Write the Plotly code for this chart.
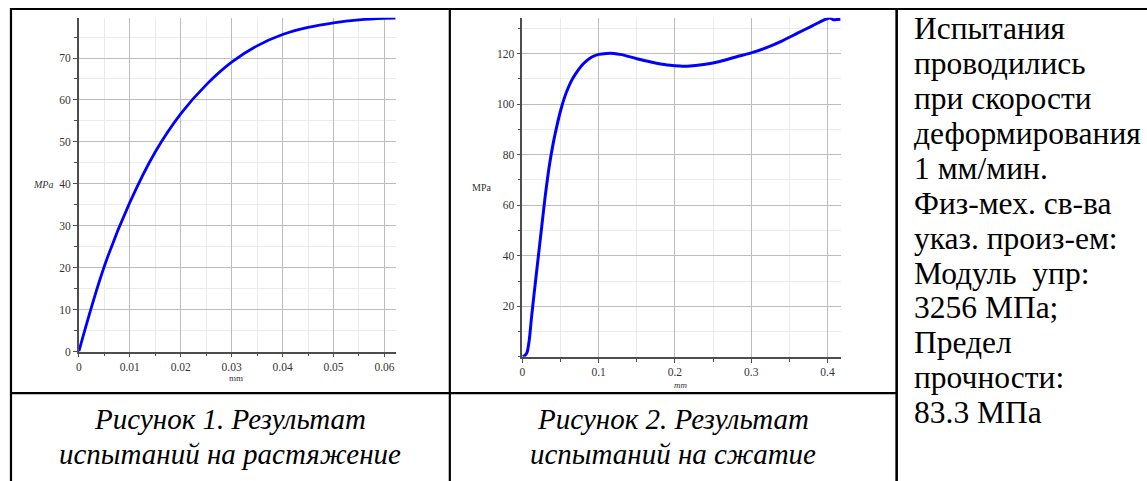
import plotly.graph_objects as go

W, H = 1147, 481

# ---- data: tension test (Figure 1)
tension_mm = [0, 0.005, 0.010, 0.015, 0.020, 0.025, 0.030, 0.035, 0.040,
              0.045, 0.050, 0.055, 0.060, 0.0622]
tension_mpa = [0, 20.3, 35.5, 47.6, 56.7, 63.6, 69.0, 72.9, 75.6,
               77.3, 78.4, 79.1, 79.45, 79.5]

# ---- data: compression test (Figure 2)
compr_mm = [0, 0.003, 0.006, 0.009, 0.012, 0.015, 0.018, 0.021, 0.024, 0.027,
            0.030, 0.033, 0.036, 0.040, 0.045, 0.050, 0.055, 0.060, 0.065, 0.070,
            0.080, 0.090, 0.100, 0.110, 0.120, 0.130, 0.150, 0.170, 0.190, 0.200,
            0.210, 0.220, 0.240, 0.260, 0.280, 0.300, 0.320, 0.340, 0.360, 0.380,
            0.395, 0.403, 0.408, 0.412, 0.417]
compr_mpa = [0, 0.4, 1.6, 6.5, 15.5, 23.8, 31.8, 39.8, 47.8, 55.8,
             63.6, 70.6, 76.8, 83.8, 91.0, 97.3, 102.4, 106.4, 109.6, 112.1,
             116.0, 118.5, 119.7, 120.1, 120.1, 119.6, 118.0, 116.6, 115.5, 115.2,
             115.0, 115.1, 115.8, 117.0, 118.7, 120.3, 122.4, 125.0, 128.0, 131.0,
             133.3, 134.1, 133.4, 133.5, 133.6]

# tick labels
t_xticks = [0, 0.01, 0.02, 0.03, 0.04, 0.05, 0.06]
t_xlabels = ["0", "0.01", "0.02", "0.03", "0.04", "0.05", "0.06"]
t_yticks = [0, 10, 20, 30, 40, 50, 60, 70]
c_xticks = [0, 0.1, 0.2, 0.3, 0.4]
c_xlabels = ["0", "0.1", "0.2", "0.3", "0.4"]
c_yticks = [20, 40, 60, 80, 100, 120]

caption1 = ["Рисунок 1. Результат", "испытаний на растяжение"]
caption2 = ["Рисунок 2. Результат", "испытаний на сжатие"]
side_text = ["Испытания", "проводились", "при скорости", "деформирования",
             "1 мм/мин.", "Физ-мех. св-ва", "указ. произ-ем:", "Модуль  упр:",
             "3256 МПа;", "Предел", "прочности:", "83.3 МПа"]


def px(x):
    return x / W


def py(y):
    return 1 - y / H


SERIF = "Liberation Serif, Times New Roman, serif"
BLUE = "#0000ff"
GRID = "#bdbdbd"
MINOR = "#ebebeb"
AXIS = "#4d4d4d"
TXT = "#333333"

fig = go.Figure()
fig.add_trace(go.Scatter(x=tension_mm, y=tension_mpa, mode="lines",
                         line=dict(color=BLUE, width=2.8, shape="spline", smoothing=1.0),
                         xaxis="x", yaxis="y", showlegend=False, hoverinfo="skip"))
fig.add_trace(go.Scatter(x=compr_mm, y=compr_mpa, mode="lines",
                         line=dict(color=BLUE, width=3, shape="spline", smoothing=0.8),
                         xaxis="x2", yaxis="y2", showlegend=False, hoverinfo="skip"))


def axis_common():
    return dict(showline=True, linecolor=AXIS, linewidth=1.6, mirror=False,
                showgrid=True, gridcolor=GRID, gridwidth=1, zeroline=False,
                ticks="outside", ticklen=4, tickcolor=AXIS, tickwidth=1,
                tickfont=dict(family=SERIF, size=11.5, color=TXT),
                fixedrange=True)


xa1 = axis_common()
xa1.update(domain=[px(76), px(393.7)], range=[0, 0.0622], anchor="y",
           tickvals=t_xticks, ticktext=t_xlabels,
           minor=dict(dtick=0.005, tick0=0, showgrid=True, gridcolor=MINOR,
                      ticks="outside", ticklen=3, tickcolor=AXIS))
ya1 = axis_common()
ya1.update(domain=[py(356), py(18)], range=[0, 79.6], anchor="x",
           tickvals=t_yticks,
           minor=dict(dtick=5, tick0=0, showgrid=True, gridcolor=MINOR,
                      ticks="outside", ticklen=3, tickcolor=AXIS))
xa2 = axis_common()
xa2.update(domain=[px(520.7), px(840)], range=[0, 0.4174], anchor="y2",
           tickvals=c_xticks, ticktext=c_xlabels,
           minor=dict(dtick=0.05, tick0=0, showgrid=True, gridcolor=MINOR,
                      ticks="outside", ticklen=3, tickcolor=AXIS))
ya2 = axis_common()
ya2.update(domain=[py(361.3), py(18)], range=[0, 134.2], anchor="x2",
           tickvals=c_yticks,
           minor=dict(dtick=10, tick0=0, showgrid=True, gridcolor=MINOR,
                      ticks="outside", ticklen=3, tickcolor=AXIS))

annotations = []


def label(text, x, y, size, color=TXT, xanchor="center"):
    annotations.append(dict(text=text, x=px(x), y=py(y), xref="paper", yref="paper",
                            showarrow=False, xanchor=xanchor, yanchor="middle",
                            font=dict(family=SERIF, size=size, color=color)))


# axis labels
label("<i>MPa</i>", 40, 187, 10)
label("mm", 234, 383, 9)
label("MPa", 480, 190, 10)
label("<i>mm</i>", 680, 390, 9)

# captions
for i, line in enumerate(caption1):
    label("<i>" + line + "</i>", 228, 424 + 35.3 * i, 29, "#000000")
for i, line in enumerate(caption2):
    label("<i>" + line + "</i>", 672, 424 + 35.3 * i, 29, "#000000")
# side text
for i, line in enumerate(side_text):
    label(line, 911, 29 + 35.36 * i, 31.5, "#000000", xanchor="left")

shapes = []


def seg(x0, y0, x1, y1, w=2.2):
    shapes.append(dict(type="line", xref="paper", yref="paper",
                       x0=px(x0), y0=py(y0), x1=px(x1), y1=py(y1),
                       line=dict(color="#000000", width=w)))


seg(8, 9, 1150, 9, 2)
seg(8, 8, 8, 495)
seg(448, 8, 448, 495)
seg(896, 8, 896, 495, 2.6)
seg(8, 398, 896, 398)

fig.update_layout(width=W, height=H, autosize=False,
                  margin=dict(l=0, r=0, t=0, b=0, pad=0),
                  paper_bgcolor="white", plot_bgcolor="white",
                  xaxis=xa1, yaxis=ya1, xaxis2=xa2, yaxis2=ya2,
                  annotations=annotations, shapes=shapes, showlegend=False)

# remove the page margin and let the figure fill the whole window height
post = (
    "document.body.style.margin='0';document.body.style.padding='0';"
    "document.documentElement.style.overflow='hidden';"
    "var gd=document.getElementById('{plot_id}');"
    "var h=window.innerHeight;"
    "if(gd && h>481.5 && h<530){gd.style.height=h+'px';"
    "Plotly.relayout(gd,{height:h});}"
)
fig.write_html("out.html", config={"displayModeBar": False}, post_script=post)
